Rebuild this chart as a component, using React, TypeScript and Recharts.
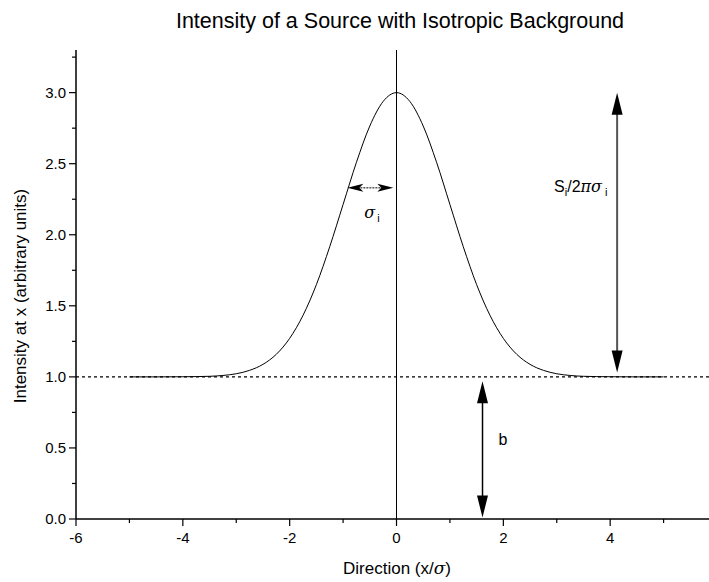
import React from "react";
import { LineChart, Line, XAxis, YAxis, ReferenceLine } from "recharts";

const xValues = [-5, -4.5, -4, -3.75, -3.5, -3.25, -3, -2.75, -2.5, -2.25, -2, -1.75, -1.5, -1.25, -1, -0.75, -0.5, -0.25, 0, 0.25, 0.5, 0.75, 1, 1.25, 1.5, 1.75, 2, 2.25, 2.5, 2.75, 3, 3.25, 3.5, 3.75, 4, 4.5, 5];
const intensity = [1.0, 1.0, 1.001, 1.002, 1.004, 1.01, 1.022, 1.046, 1.088, 1.159, 1.271, 1.433, 1.649, 1.916, 2.213, 2.51, 2.765, 2.938, 3.0, 2.938, 2.765, 2.51, 2.213, 1.916, 1.649, 1.433, 1.271, 1.159, 1.088, 1.046, 1.022, 1.01, 1.004, 1.002, 1.001, 1.0, 1.0];
const xTicks = [-6, -5, -4, -3, -2, -1, 0, 1, 2, 3, 4, 5];
const yTicks = [0, 0.25, 0.5, 0.75, 1, 1.25, 1.5, 1.75, 2, 2.25, 2.5, 2.75, 3, 3.25];
const background = 1.0;
const peakX = 0;
const peakValue = 3.0;
const sigmaArrow = { y: 2.33, x1: -0.92, x2: -0.06 };
const amplitudeArrowX = 4.13;
const backgroundArrowX = 1.61;

const data = xValues.map((x, i) => ({ x, y: intensity[i] }));
const FONT = "Liberation Sans, Arial, sans-serif";

const XTick = (props: any) => {
  const { x, y, payload } = props;
  const v = payload.value;
  const major = Math.round(v) % 2 === 0;
  return (
    <g>
      <line x1={x} y1={y} x2={x} y2={y + (major ? 7 : 4)} stroke="#000" strokeWidth={1.2} />
      {major && (
        <text x={x} y={y + 24} textAnchor="middle" fontSize={15} fontFamily={FONT} fill="#000">
          {v}
        </text>
      )}
    </g>
  );
};

const YTick = (props: any) => {
  const { x, y, payload } = props;
  const v = payload.value;
  const major = Math.abs(v * 2 - Math.round(v * 2)) < 1e-6;
  return (
    <g>
      <line x1={x} y1={y} x2={x - (major ? 7 : 4)} y2={y} stroke="#000" strokeWidth={1.2} />
      {major && (
        <text x={x - 10} y={y + 5} textAnchor="end" fontSize={15} fontFamily={FONT} fill="#000">
          {v.toFixed(1)}
        </text>
      )}
    </g>
  );
};

const DoubleArrow = (props: any) => {
  const { x1, y1, y2, color, width, head, headW, label } = props;
  const top = Math.min(y1, y2);
  const bot = Math.max(y1, y2);
  const x = x1;
  return (
    <g>
      <line x1={x} y1={top + head - 2} x2={x} y2={bot - head + 2} stroke={color} strokeWidth={width} />
      <polygon points={`${x},${top} ${x - headW / 2},${top + head} ${x + headW / 2},${top + head}`} fill="#000" />
      <polygon points={`${x},${bot} ${x - headW / 2},${bot - head} ${x + headW / 2},${bot - head}`} fill="#000" />
      {label}
    </g>
  );
};

const AmplitudeShape = (props: any) => {
  const { x1, y1, x2, y2 } = props;
  const top = Math.min(y1, y2);
  return (
    <DoubleArrow
      x1={x1}
      y1={y1}
      x2={x2}
      y2={y2}
      color="#555"
      width={2}
      head={22}
      headW={11}
      label={
        <text x={x1 - 63} y={top + 99} fontSize={16} fontFamily={FONT} fill="#000">
          S
          <tspan fontSize={11} dy={4}>i</tspan>
          <tspan dy={-4}>/2</tspan>
          <tspan fontFamily="DejaVu Serif, serif" fontStyle="italic">πσ</tspan>
          <tspan fontSize={11} dy={4}> i</tspan>
        </text>
      }
    />
  );
};

const BackgroundShape = (props: any) => {
  const { x1, y1, x2, y2 } = props;
  const top = Math.min(y1, y2);
  return (
    <DoubleArrow
      x1={x1}
      y1={y1}
      x2={x2}
      y2={y2}
      color="#000"
      width={1.5}
      head={22}
      headW={11}
      label={
        <text x={x1 + 16} y={top + 64} fontSize={16} fontFamily={FONT} fill="#000">
          b
        </text>
      }
    />
  );
};

const SigmaShape = (props: any) => {
  const { x1, y1, x2 } = props;
  const l = Math.min(x1, x2);
  const r = Math.max(x1, x2);
  const y = y1;
  return (
    <g>
      <line x1={l + 4} y1={y} x2={r - 4} y2={y} stroke="#000" strokeWidth={1} strokeDasharray="2 1" />
      <polygon points={`${l},${y} ${l + 16},${y - 4} ${l + 12},${y} ${l + 16},${y + 4}`} fill="#000" />
      <polygon points={`${r},${y} ${r - 16},${y - 4} ${r - 12},${y} ${r - 16},${y + 4}`} fill="#000" />
      <text x={(l + r) / 2 - 6} y={y + 30} fontSize={16} fontFamily="DejaVu Serif, serif" fontStyle="italic" fill="#000">
        σ<tspan fontSize={11} fontStyle="normal" fontFamily={FONT} dx={2} dy={4}>i</tspan>
      </text>
    </g>
  );
};

export default function App() {
  return (
    <div style={{ position: "absolute", left: 0, top: 0, width: 709, height: 582, background: "#fff" }}>
      <LineChart width={709} height={582} data={data} margin={{ top: 50, right: 0, left: 0, bottom: 0 }}>
        <text x={400} y={28} textAnchor="middle" fontSize={21.5} fontFamily={FONT} fill="#000">
          Intensity of a Source with Isotropic Background
        </text>
        <text
          x={26}
          y={296}
          transform="rotate(-90 26 296)"
          textAnchor="middle"
          fontSize={17}
          fontFamily={FONT}
          fill="#000"
        >
          Intensity at x (arbitrary units)
        </text>
        <text x={397} y={574} textAnchor="middle" fontSize={17} fontFamily={FONT} fill="#000">
          Direction (x/<tspan fontFamily="DejaVu Serif, serif" fontStyle="italic">σ</tspan>)
        </text>
        <XAxis
          dataKey="x"
          type="number"
          domain={[-6, 5.85]}
          ticks={xTicks}
          allowDataOverflow
          height={63}
          tickSize={0}
          tickMargin={0}
          tickLine={false}
          tick={<XTick />}
          axisLine={{ stroke: "#000", strokeWidth: 1.5 }}
          interval={0}
        />
        <YAxis
          type="number"
          domain={[0, 3.3]}
          ticks={yTicks}
          allowDataOverflow
          width={76}
          tickSize={0}
          tickMargin={0}
          tickLine={false}
          tick={<YTick />}
          axisLine={{ stroke: "#000", strokeWidth: 1.5 }}
          interval={0}
        />
        <ReferenceLine y={background} stroke="#000" strokeWidth={1.3} strokeDasharray="3 3" />
        <ReferenceLine x={peakX} stroke="#000" strokeWidth={1} />
        <Line
          type="monotone"
          dataKey="y"
          stroke="#000"
          strokeWidth={1}
          dot={false}
          isAnimationActive={false}
        />
        <ReferenceLine
          segment={[
            { x: amplitudeArrowX, y: background + 0.03 },
            { x: amplitudeArrowX, y: peakValue },
          ]}
          shape={<AmplitudeShape />}
        />
        <ReferenceLine
          segment={[
            { x: backgroundArrowX, y: 0.01 },
            { x: backgroundArrowX, y: background - 0.03 },
          ]}
          shape={<BackgroundShape />}
        />
        <ReferenceLine
          segment={[
            { x: sigmaArrow.x1, y: sigmaArrow.y },
            { x: sigmaArrow.x2, y: sigmaArrow.y },
          ]}
          shape={<SigmaShape />}
        />
      </LineChart>
    </div>
  );
}
